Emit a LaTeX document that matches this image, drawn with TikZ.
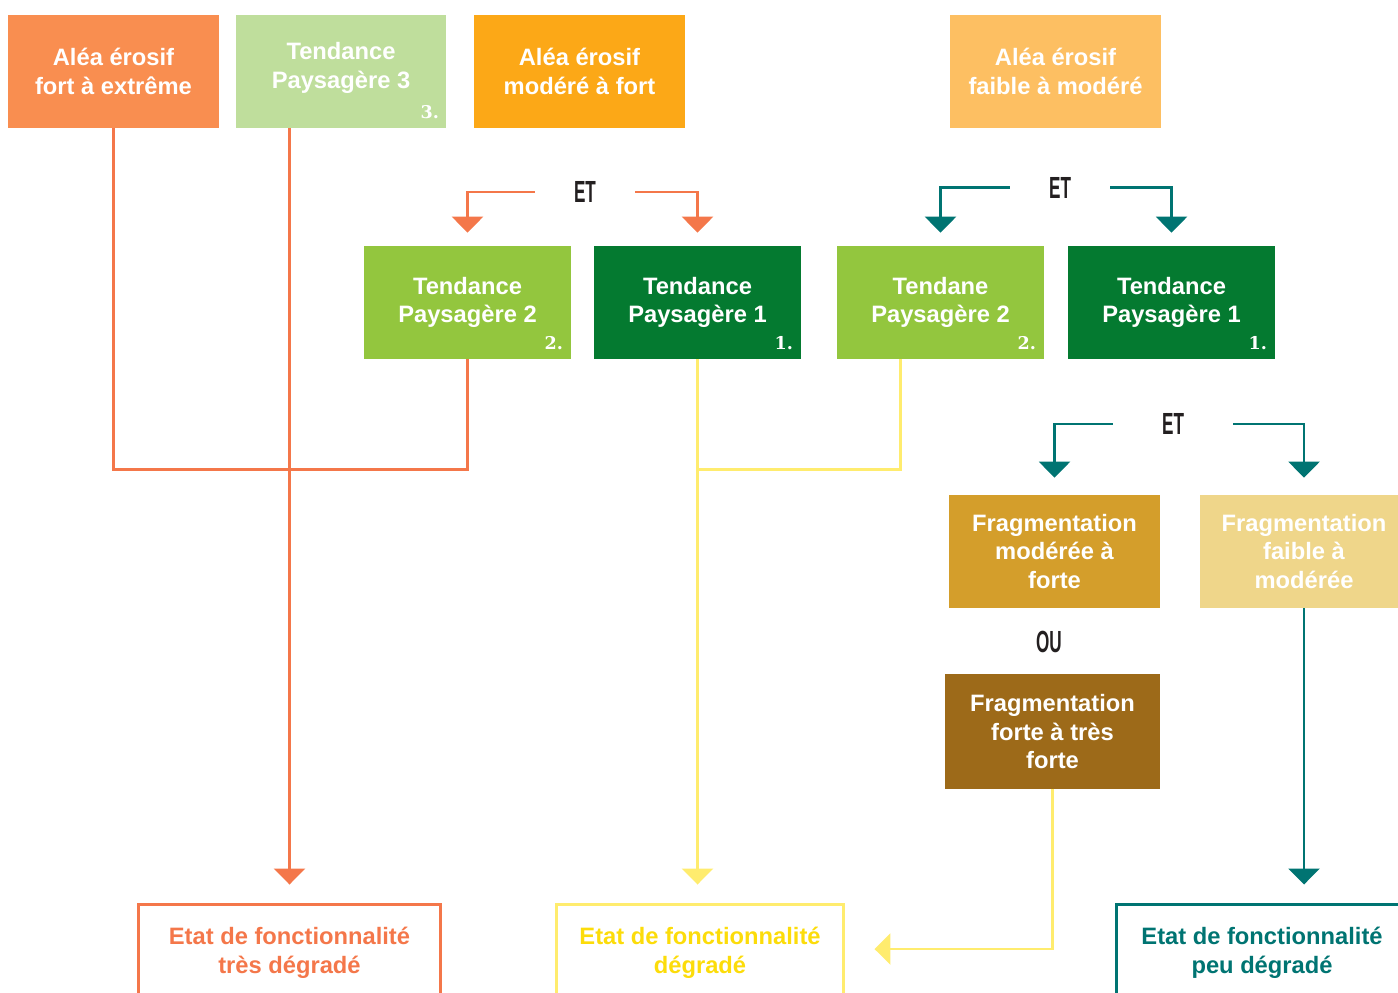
\documentclass[tikz,border=0pt]{standalone}
\usepackage{fontspec}
\setsansfont{Liberation Sans}
\newfontfamily\etfont[FakeStretch=0.56]{Liberation Sans Bold}
\newfontfamily\numfont{DejaVu Serif}
\usetikzlibrary{arrows.meta,calc}

\definecolor{aleafort}{HTML}{F98E50}
\definecolor{aleamod}{HTML}{FCA817}
\definecolor{aleafaible}{HTML}{FDBF62}
\definecolor{tendtrois}{HTML}{BFDE9C}
\definecolor{tenddeux}{HTML}{93C63E}
\definecolor{tendun}{HTML}{047A30}
\definecolor{fragmod}{HTML}{D49E2B}
\definecolor{fragfaible}{HTML}{EFD68A}
\definecolor{fragforte}{HTML}{9D6A19}
\definecolor{orangeline}{HTML}{F4774A}
\definecolor{yellowline}{HTML}{FFEC6E}
\definecolor{yellowtext}{HTML}{FCDC0A}
\definecolor{tealline}{HTML}{007472}
\definecolor{conjtext}{HTML}{231F20}

\tikzset{
  box/.style={rectangle, inner sep=0pt, minimum width=4.22cm, minimum height=2.26cm,
    align=center, text=white, font=\sffamily\bfseries\fontsize{13.5}{16.3}\selectfont},
  boxtext/.style={inner sep=0pt, align=center, text=white,
    font=\sffamily\bfseries\fontsize{13.5}{16.3}\selectfont},
  etat/.style={draw, line width=0.06cm, inner sep=0pt, minimum height=1.94cm,
    align=center, font=\sffamily\bfseries\fontsize{13.5}{16.3}\selectfont},
  num/.style={anchor=base east, inner sep=0pt, text=white,
    font=\numfont\bfseries\fontsize{10}{10}\selectfont},
  conj/.style={inner xsep=0.78cm, inner ysep=0pt, text=conjtext,
    font=\etfont\fontsize{17.4}{18}\selectfont},
  link/.style={line width=0.05cm},
  tip/.style={-{Triangle[width=0.62cm,length=0.32cm]}}
}

\begin{document}
\begin{tikzpicture}[x=0.02cm, y=-0.02cm]
  \useasboundingbox (0,0) rectangle (1398,992);
  \clip (0,0) rectangle (1398,992);

  \node[box, fill=aleafort] (a1) at (113.5,71.5) {Aléa érosif\\fort à extrême};
  \node[box, minimum width=4.2cm, fill=tendtrois] (tp3) at (341,71.5) {};
  \node[boxtext] (tp3txt) at (341,68) {Tendance\\Paysagère 3};
  \node[num] (n3) at ($(tp3.south east)+(-7,-10)$) {3.};
  \node[box, fill=aleamod] (a2) at (579.5,71.5) {Aléa érosif\\modéré à fort};
  \node[box, fill=aleafaible] (a3) at (1055.5,71.5) {Aléa érosif\\faible à modéré};

  \node[conj] (et1) at (585,192) {ET};
  \node[conj] (et2) at (1060,187.5) {ET};

  \node[box, minimum width=4.14cm, fill=tenddeux] (tp2a) at (467.5,302.5) {Tendance\\Paysagère 2};
  \node[num] (n2a) at ($(tp2a.south east)+(-8,-10)$) {2.};
  \node[box, minimum width=4.14cm, fill=tendun] (tp1a) at (697.5,302.5) {Tendance\\Paysagère 1};
  \node[num] (n1a) at ($(tp1a.south east)+(-8,-10)$) {1.};
  \node[box, minimum width=4.14cm, fill=tenddeux] (tp2b) at (940.5,302.5) {Tendane\\Paysagère 2};
  \node[num] (n2b) at ($(tp2b.south east)+(-8,-10)$) {2.};
  \node[box, minimum width=4.14cm, fill=tendun] (tp1b) at (1171.5,302.5) {Tendance\\Paysagère 1};
  \node[num] (n1b) at ($(tp1b.south east)+(-8,-10)$) {1.};

  \node[conj, inner xsep=0.98cm] (et3) at (1173,424) {ET};

  \node[box, fill=fragmod] (fm) at (1054.5,551.5) {Fragmentation\\modérée à\\forte};
  \node[box, minimum width=4.16cm, fill=fragfaible] (ff) at (1304,551.5) {Fragmentation\\faible à\\modérée};
  \node[conj, inner xsep=0pt] (ou) at (1049,641.5) {OU};
  \node[box, minimum width=4.3cm, minimum height=2.3cm, fill=fragforte] (ft) at (1052.5,731.5) {Fragmentation\\forte à très\\forte};

  \node[etat, minimum width=6.06cm, draw=orangeline, text=orangeline] (e1) at (289.5,952.5) {Etat de fonctionnalité\\très dégradé};
  \node[etat, minimum width=5.76cm, draw=yellowline, text=yellowtext] (e2) at (700,952.5) {Etat de fonctionnalité\\dégradé};
  \node[etat, minimum width=5.84cm, draw=tealline, text=tealline] (e3) at (1262,952.5) {Etat de fonctionnalité\\peu dégradé};

  \draw[link, orangeline, tip, shorten >=0.26cm] (et1.west) -| (tp2a.north);
  \draw[link, orangeline, tip, shorten >=0.26cm] (et1.east) -| (tp1a.north);
  \draw[link, tealline, tip, shorten >=0.26cm] (et2.west) -| (tp2b.north);
  \draw[link, tealline, tip, shorten >=0.26cm] (et2.east) -| (tp1b.north);
  \draw[link, tealline, tip, shorten >=0.34cm] (et3.west) -| (fm.north);
  \draw[link, tealline, tip, shorten >=0.34cm] (et3.east) -| (ff.north);

  \draw[link, orangeline] (a1.south) -- ++(0,341) -| (tp2a.south);
  \draw[link, orangeline, tip, shorten >=0.36cm] (tp3.south -| e1.north) -- (e1.north);
  \draw[link, yellowline] ($(tp2b.south)+(-40,0)$) |- ($(tp1a.south)+(0,110)$);
  \draw[link, yellowline, tip, shorten >=0.36cm] (tp1a.south) -- (tp1a.south |- e2.north);
  \draw[link, yellowline, tip, shorten >=0.58cm] (ft.south) |- ($(e2.east)+(0,-3.5)$);
  \draw[link, tealline, tip, shorten >=0.36cm] (ff.south) -- (ff.south |- e3.north);
\end{tikzpicture}
\end{document}
